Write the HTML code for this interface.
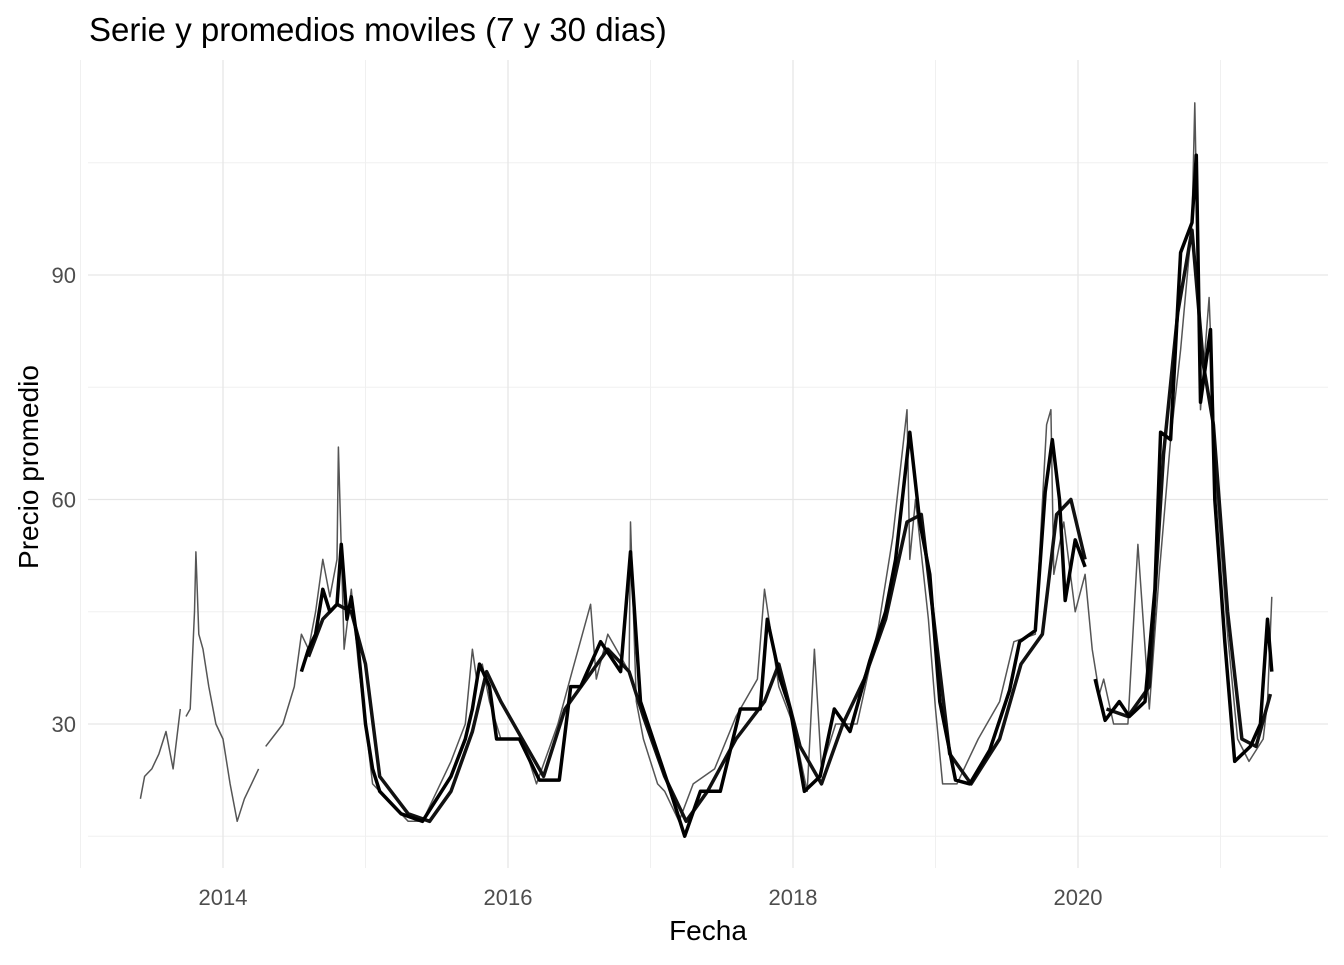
<!DOCTYPE html>
<html><head><meta charset="utf-8"><style>
body{margin:0;background:#fff;font-family:"Liberation Sans",sans-serif;}
</style></head><body>
<svg id="chart" width="1344" height="960" xmlns="http://www.w3.org/2000/svg">
<text x="89" y="41" font-size="33" fill="#000">Serie y promedios moviles (7 y 30 dias)</text>
<g id="grid"></g><g id="series"></g><g id="axes"></g>
<text x="708" y="940" font-size="28" text-anchor="middle">Fecha</text>
<text transform="translate(38,467) rotate(-90)" font-size="28" text-anchor="middle">Precio promedio</text>
</svg>
<script>
const xTicks=[2014,2016,2018,2020];
const yTicks=[30,60,90];
const ma7Dates=[2014.55,2014.6,2014.65,2014.7,2014.75,2014.8,2014.83,2014.87,2014.9,2014.95,2015.0,2015.05,2015.1,2015.25,2015.4,2015.5,2015.6,2015.7,2015.75,2015.8,2015.87,2015.92,2016.08,2016.22,2016.36,2016.44,2016.51,2016.65,2016.79,2016.86,2016.93,2017.07,2017.14,2017.24,2017.35,2017.49,2017.63,2017.77,2017.82,2017.91,2017.98,2018.08,2018.19,2018.29,2018.40,2018.54,2018.65,2018.72,2018.82,2018.89,2018.96,2019.03,2019.14,2019.24,2019.38,2019.52,2019.59,2019.70,2019.77,2019.82,2019.87,2019.91,2019.98,2020.05,null,2020.12,2020.19,2020.29,2020.36,2020.47,2020.54,2020.58,2020.65,2020.72,2020.80,2020.83,2020.86,2020.93,2020.96,2021.03,2021.10,2021.21,2021.28,2021.33,2021.36];
const ma7Values=[37,40,42,48,45,46,54,44,47,40,30,24,21,18,17,20,23,28,32,38,35,28,28,22.5,22.5,35,35,41,37,53,33,25,21,15,21,21,32,32,44,36,32,21,23,32,29,38.5,45,52,69,57,50,33,22.5,22,26.5,34.5,41,42.5,61,68,60,46.5,54.6,51,null,36,30.5,33,31,33,48,69,68,93,97,106,73,82.7,60,41,25,27,30,44,37];
const ma30Dates=[2014.6,2014.7,2014.8,2014.9,2015.0,2015.1,2015.3,2015.45,2015.6,2015.75,2015.85,2015.95,2016.1,2016.25,2016.4,2016.55,2016.7,2016.85,2016.95,2017.1,2017.25,2017.4,2017.6,2017.8,2017.9,2018.05,2018.2,2018.35,2018.5,2018.65,2018.8,2018.9,2019.0,2019.1,2019.25,2019.45,2019.6,2019.75,2019.85,2019.95,2020.05,null,2020.2,2020.35,2020.5,2020.6,2020.7,2020.8,2020.88,2020.95,2021.05,2021.15,2021.25,2021.35];
const ma30Values=[39,44,46,45,38,23,18,17,21,29,37,33,28,23,32,36,40,37,31,23,17,21,28,33,38,27,22,30,36,44,57,58,42,26,22,28,38,42,58,60,52,null,32,31,35,66,85,96,78,70,45,28,27,34];
const rawDates=[2013.42,2013.45,2013.5,2013.55,2013.6,2013.65,2013.7,null,2013.74,2013.77,2013.8,2013.81,2013.83,2013.86,2013.9,2013.95,2014.0,2014.05,2014.1,2014.15,2014.2,2014.25,null,2014.3,2014.38,2014.42,2014.5,2014.55,2014.6,2014.65,2014.7,2014.75,2014.8,2014.81,2014.85,2014.9,2014.95,2015.0,2015.05,2015.1,2015.2,2015.3,2015.4,2015.5,2015.6,2015.7,2015.75,2015.78,2015.82,2015.87,2015.95,2016.1,2016.2,2016.35,2016.45,2016.58,2016.62,2016.7,2016.85,2016.86,2016.9,2016.95,2017.05,2017.1,2017.2,2017.3,2017.45,2017.6,2017.75,2017.8,2017.9,2018.0,2018.1,2018.15,2018.2,2018.3,2018.45,2018.6,2018.7,2018.8,2018.82,2018.86,2018.95,2019.0,2019.05,2019.15,2019.3,2019.45,2019.55,2019.7,2019.78,2019.81,2019.83,2019.9,2019.98,2020.05,2020.1,2020.15,2020.18,2020.25,2020.35,2020.42,2020.5,2020.57,2020.65,2020.72,2020.8,2020.82,2020.86,2020.92,2020.97,2021.05,2021.12,2021.2,2021.3,2021.33,2021.36];
const rawValues=[20,23,24,26,29,24,32,null,31,32,45,53,42,40,35,30,28,22,17,20,22,24,null,27,29,30,35,42,40,45,52,47,52,67,40,48,38,30,22,21,19,17,17,21,25,30,40,36,38,33,28,28,22,30,37,46,36,42,37,57,33,28,22,21,17,22,24,31,36,48,35,30,21,40,24,30,30,43,55,72,52,60,44,32,22,22,28,33,41,42,70,72,50,57,45,50,40,34,36,30,30,54,32,50,68,80,97,113,72,87,62,42,28,25,28,33,47,37];
const x=d=>223+(d-2014)*142.5;
const y=v=>724-(v-30)*7.483;
const NS='http://www.w3.org/2000/svg';
const grid=document.getElementById('grid'),axes=document.getElementById('axes'),series=document.getElementById('series');
function ln(g,x1,y1,x2,y2,c,w){const l=document.createElementNS(NS,'line');l.setAttribute('x1',x1);l.setAttribute('y1',y1);l.setAttribute('x2',x2);l.setAttribute('y2',y2);l.setAttribute('stroke',c);l.setAttribute('stroke-width',w);g.appendChild(l);return l;}
[2013,2015,2017,2019,2021].forEach(d=>{const l=ln(grid,x(d),60,x(d),868,'#f0f0f0',1);

});
[15,45,75,105].forEach(v=>{const l=ln(grid,88,y(v),1328,y(v),'#f0f0f0',1);

});
xTicks.forEach(d=>{const l=ln(grid,x(d),60,x(d),868,'#e6e6e6',1.3);


const t=document.createElementNS(NS,'text');t.setAttribute('x',x(d));t.setAttribute('y',905);t.setAttribute('font-size','22');t.setAttribute('fill','#4d4d4d');t.setAttribute('text-anchor','middle');t.textContent=d;


axes.appendChild(t);});
yTicks.forEach(v=>{const l=ln(grid,88,y(v),1328,y(v),'#e6e6e6',1.3);


const t=document.createElementNS(NS,'text');t.setAttribute('x',76);t.setAttribute('y',y(v)+8);t.setAttribute('font-size','22');t.setAttribute('fill','#4d4d4d');t.setAttribute('text-anchor','end');t.textContent=v;


axes.appendChild(t);});
function path(ds,vs,c,w,name){let d='',m=true;for(let i=0;i<ds.length;i++){if(ds[i]===null||vs[i]===null){m=true;continue;}d+=(m?'M':'L')+x(ds[i]).toFixed(1)+','+y(vs[i]).toFixed(1);m=false;}
const p=document.createElementNS(NS,'path');p.setAttribute('d',d);p.setAttribute('fill','none');p.setAttribute('stroke',c);p.setAttribute('stroke-width',w);p.setAttribute('stroke-linejoin','round');


series.appendChild(p);}
path(rawDates,rawValues,'#555',1.5,'raw-series-line');
path(ma30Dates,ma30Values,'#111',3.5,'ma30-line');
path(ma7Dates,ma7Values,'#000',3.5,'ma7-line');
</script>
</body></html>
